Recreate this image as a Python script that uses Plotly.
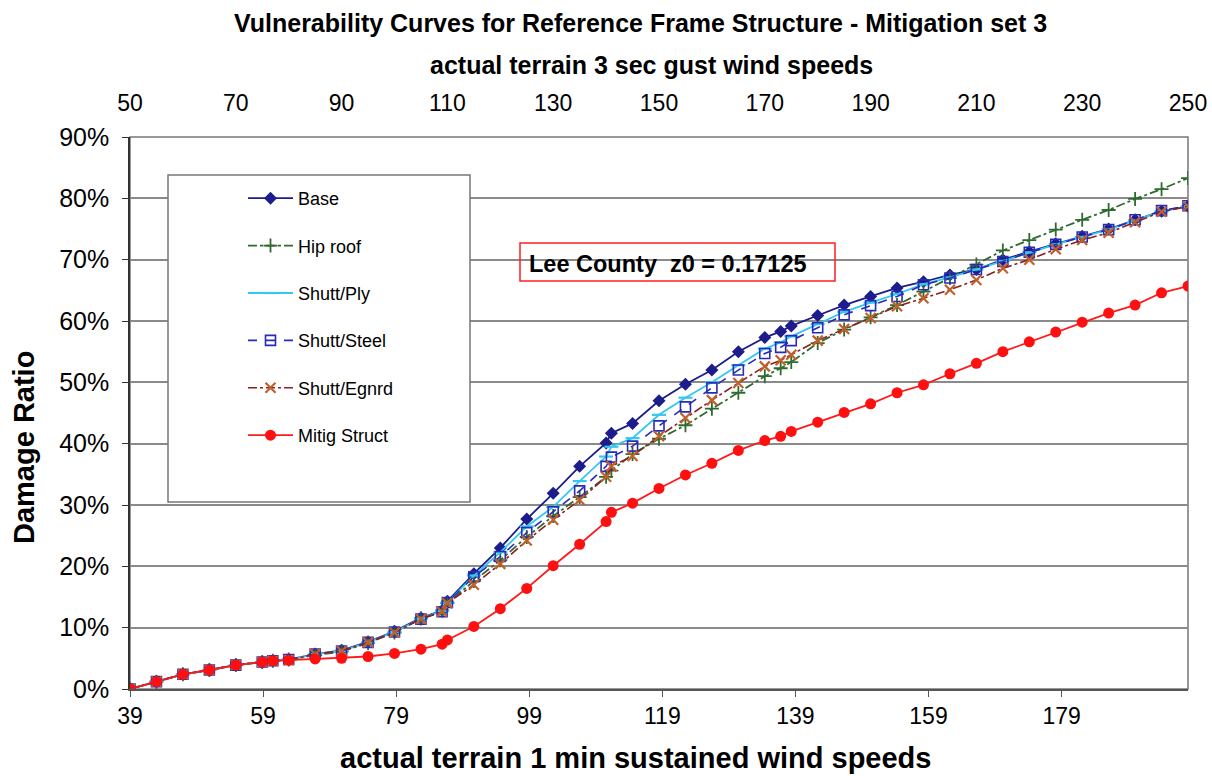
import plotly.graph_objects as go

# 3-sec gust wind speeds (top axis) at which each curve is evaluated
gust_speeds = [50, 55, 60, 65, 70, 75, 77, 80, 85, 90, 95, 100, 105, 109, 110, 115, 120, 125, 130, 135,
               140, 141, 145, 150, 155, 160, 165, 170, 173, 175, 180, 185, 190, 195, 200, 205, 210, 215,
               220, 225, 230, 235, 240, 245, 250]

# Damage ratio, percent
base = [0, 1.2, 2.4, 3.1, 3.9, 4.4, 4.6, 4.8, 5.7, 6.3, 7.7, 9.4, 11.6, 12.8, 14.3, 18.8, 23.0, 27.7, 31.9, 36.3,
        40.1, 41.7, 43.3, 47.0, 49.7, 52.0, 55.0, 57.3, 58.3, 59.2, 60.9, 62.6, 64.0, 65.4, 66.4, 67.5, 68.4, 70.0,
        71.3, 72.6, 73.8, 75.0, 76.5, 77.9, 78.7]
hip_roof = [0, 1.2, 2.4, 3.1, 3.9, 4.4, 4.6, 4.8, 5.5, 6.1, 7.5, 9.2, 11.5, 12.8, 14.0, 17.6, 21.0, 24.8, 28.2, 31.3,
            34.6, 35.6, 38.3, 40.8, 43.0, 45.7, 48.3, 51.0, 52.3, 53.3, 56.4, 58.6, 60.6, 62.6, 64.8, 67.0, 69.2, 71.5,
            73.2, 74.9, 76.5, 78.1, 79.9, 81.5, 83.3]
shutt_ply = [0, 1.2, 2.4, 3.1, 3.9, 4.4, 4.6, 4.8, 5.7, 6.2, 7.6, 9.3, 11.5, 12.7, 14.1, 18.5, 22.3, 26.5, 29.7, 33.9,
             37.9, 39.5, 40.9, 44.7, 47.5, 50.0, 52.8, 55.5, 56.5, 57.5, 59.5, 61.5, 63.0, 64.4, 66.0, 67.1, 68.4, 69.8,
             71.2, 72.5, 73.7, 74.9, 76.4, 77.9, 78.7]
shutt_steel = [0, 1.2, 2.4, 3.1, 3.9, 4.4, 4.6, 4.8, 5.7, 6.2, 7.6, 9.3, 11.4, 12.6, 14.1, 18.3, 21.6, 25.5, 28.9, 32.3,
               36.3, 37.8, 39.6, 42.9, 46.0, 49.1, 52.0, 54.7, 55.7, 56.8, 58.9, 61.0, 62.5, 64.0, 65.9, 67.0, 68.4, 69.7,
               71.2, 72.5, 73.7, 74.9, 76.5, 78.0, 78.8]
shutt_egnrd = [0, 1.2, 2.4, 3.1, 3.9, 4.4, 4.6, 4.7, 5.7, 6.2, 7.6, 9.2, 11.4, 12.6, 14.0, 17.0, 20.4, 24.2, 27.6, 30.8,
               34.6, 36.3, 38.0, 41.2, 44.2, 47.1, 49.9, 52.6, 53.6, 54.5, 56.8, 58.7, 60.5, 62.4, 63.7, 65.1, 66.7, 68.6,
               70.0, 71.7, 73.2, 74.4, 76.1, 77.8, 78.7]
mitig_struct = [0, 1.2, 2.4, 3.1, 3.9, 4.4, 4.6, 4.7, 4.9, 5.0, 5.3, 5.8, 6.5, 7.3, 8.0, 10.2, 13.1, 16.4, 20.1, 23.6,
                27.3, 28.8, 30.3, 32.7, 34.9, 36.8, 38.9, 40.5, 41.2, 42.0, 43.5, 45.1, 46.5, 48.3, 49.6, 51.4, 53.1, 55.0,
                56.6, 58.2, 59.8, 61.3, 62.6, 64.6, 65.7]

# Axis ticks
gust_ticks = [50, 70, 90, 110, 130, 150, 170, 190, 210, 230, 250]
sustained_ticks = [39, 59, 79, 99, 119, 139, 159, 179]
sustained_range = [39, 198]
y_ticks = [0, 10, 20, 30, 40, 50, 60, 70, 80, 90]
y_labels = ["0%", "10%", "20%", "30%", "40%", "50%", "60%", "70%", "80%", "90%"]

FONT = "Arial, Liberation Sans, sans-serif"

fig = go.Figure()

series = [
    ("Base", base, dict(color="#1c1c8c", width=1.8, dash="solid"),
     dict(symbol="diamond", size=10, color="#1c1c8c")),
    ("Hip roof", hip_roof, dict(color="#2f6b2f", width=1.8, dash="dashdot"),
     dict(symbol="cross-thin", size=10, color="#2f6b2f", line=dict(color="#2f6b2f", width=1.8))),
    ("Shutt/Ply", shutt_ply, dict(color="#33c8f0", width=1.8, dash="solid"),
     dict(symbol="line-ew", size=10, color="#33c8f0", line=dict(color="#33c8f0", width=2.2))),
    ("Shutt/Steel", shutt_steel, dict(color="#2a2ab8", width=1.6, dash="dash"),
     dict(symbol="square-open", size=10, color="#2a2ab8", line=dict(color="#2a2ab8", width=1.6))),
    ("Shutt/Egnrd", shutt_egnrd, dict(color="#8c2020", width=1.6, dash="dashdot"),
     dict(symbol="x-thin", size=10, color="#e07a30", line=dict(color="#c0602a", width=2.2))),
    ("Mitig Struct", mitig_struct, dict(color="#ff1a1a", width=1.8, dash="solid"),
     dict(symbol="circle", size=11, color="#ff1010")),
]

for i, (name, vals, line, marker) in enumerate(series):
    fig.add_trace(go.Scatter(x=gust_speeds, y=vals, name=name, mode="lines+markers",
                             line=line, marker=marker, xaxis="x2", yaxis="y",
                             legendgroup=f"g{i}"))

# dummy trace so the bottom (sustained) axis is drawn
fig.add_trace(go.Scatter(x=sustained_range, y=[None, None], xaxis="x", yaxis="y",
                         showlegend=False, hoverinfo="skip", mode="lines"))

L, R, T, B = 130, 24, 137, 87
W, H = 1212, 776
pw, ph = W - L - R, H - T - B


def px(xp):
    return (xp - L) / pw


def py(yp):
    return (H - B - yp) / ph


fig.update_layout(
    width=W, height=H,
    margin=dict(l=L, r=R, t=T, b=B, autoexpand=False),
    paper_bgcolor="white", plot_bgcolor="white",
    font=dict(family=FONT, color="black", size=18),
    showlegend=True,
    legend=dict(x=px(243), y=py(180), xanchor="left", yanchor="top",
                bgcolor="rgba(0,0,0,0)", borderwidth=0,
                font=dict(size=18, family=FONT), tracegroupgap=21, itemwidth=45),
    xaxis=dict(range=sustained_range, tickvals=sustained_ticks, side="bottom", automargin=False,
               showgrid=False, zeroline=False, showline=True, linecolor="#555555", linewidth=1.5,
               ticks="outside", ticklen=6, tickcolor="#555555", tickfont=dict(size=23)),
    xaxis2=dict(range=[50, 250], tickvals=gust_ticks, side="top", overlaying="x", anchor="y",
                automargin=False, showgrid=False, zeroline=False, showline=False, ticks="",
                ticklabelstandoff=20, tickfont=dict(size=23)),
    yaxis=dict(range=[0, 90], tickvals=y_ticks, ticktext=y_labels, showgrid=True, automargin=False,
               gridcolor="#8a8a8a", gridwidth=1.5, zeroline=False, showline=True,
               linecolor="#333333", linewidth=1.5, ticks="outside", ticklen=6, tickcolor="#333333",
               ticklabelstandoff=8, tickfont=dict(size=25)),
    shapes=[
        dict(type="rect", xref="paper", yref="paper", x0=0, x1=1, y0=0, y1=1,
             line=dict(color="#777777", width=1.5), layer="below"),
        dict(type="rect", xref="paper", yref="paper", x0=px(168), x1=px(470), y0=py(502), y1=py(175),
             line=dict(color="#777777", width=1.5), fillcolor="white", layer="above"),
        dict(type="rect", xref="paper", yref="paper", x0=px(520), x1=px(835), y0=py(281), y1=py(243),
             line=dict(color="#ff2020", width=1.5), layer="above"),
    ],
    annotations=[
        dict(text="<b>Vulnerability Curves for Reference Frame Structure - Mitigation set 3</b>",
             xref="paper", yref="paper", x=px(640), y=py(23), showarrow=False,
             font=dict(size=25), xanchor="center", yanchor="middle"),
        dict(text="<b>actual terrain 3 sec gust wind speeds</b>",
             xref="paper", yref="paper", x=px(651), y=py(65), showarrow=False,
             font=dict(size=25), xanchor="center", yanchor="middle"),
        dict(text="<b>Lee County  z0 = 0.17125</b>",
             xref="paper", yref="paper", x=px(527), y=py(264), showarrow=False,
             font=dict(size=23.5), xanchor="left", yanchor="middle"),
        dict(text="<b>actual terrain 1 min sustained wind speeds</b>",
             xref="paper", yref="paper", x=px(635), y=py(758), showarrow=False,
             font=dict(size=29), xanchor="center", yanchor="middle"),
        dict(text="<b>Damage Ratio</b>", textangle=-90,
             xref="paper", yref="paper", x=px(24), y=py(448), showarrow=False,
             font=dict(size=29), xanchor="center", yanchor="middle"),
    ],
)

fig.write_html("out.html", config={"displayModeBar": False},
               post_script="document.body.style.margin='0';")
